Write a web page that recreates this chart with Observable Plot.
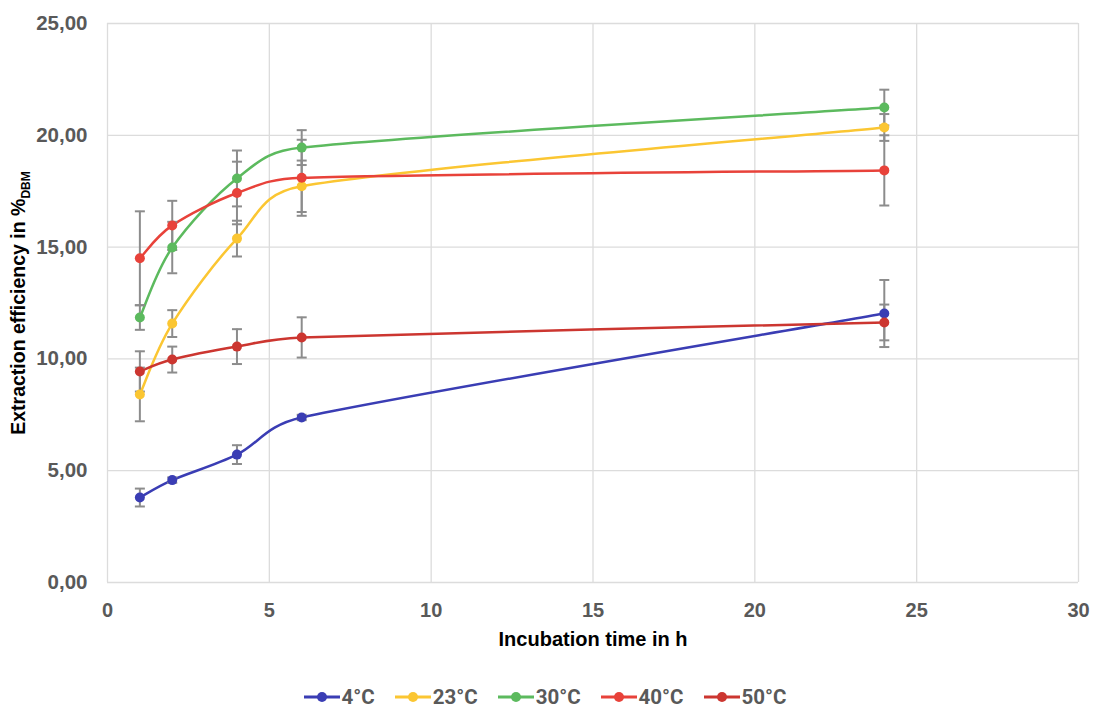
<!DOCTYPE html>
<html>
<head>
<meta charset="utf-8">
<script src="https://cdn.jsdelivr.net/npm/d3@7"></script>
<script src="https://cdn.jsdelivr.net/npm/@observablehq/plot@0.6"></script>
<style>
  html, body { margin: 0; padding: 0; background: #fff; }
  body { width: 1099px; font-family: "Liberation Sans", Arial, sans-serif; }
  #chart svg { display: block; }
  #legend { display: flex; justify-content: center; gap: 20px; margin-top: 27px; padding-right: 9px; line-height: 20px; height: 20px;
            font-family: "Roboto", "Liberation Sans", sans-serif; font-weight: 700; font-size: 20.5px; color: #595959; }
  .item { display: flex; align-items: center; gap: 2px; }
</style>
</head>
<body>
<div id="chart"></div>
<div id="legend"></div>
<script>
// ---- data ----
const times = [1, 2, 4, 6, 24];
const seriesNames = ["4°C", "23°C", "30°C", "40°C", "50°C"];
const seriesColors = ["#3a3db4", "#fbc632", "#5cba5e", "#e8423a", "#cc3630"];

const mean4  = [3.80, 4.58, 5.72, 7.38, 12.03];
const err4   = [0.40, 0.12, 0.42, 0.12, 1.50];
const mean23 = [8.41, 11.58, 15.38, 17.72, 20.35];
const err23  = [1.20, 0.60, 0.80, 1.15, 0.60];
const mean30 = [11.85, 14.98, 18.07, 19.45, 21.24];
const err30  = [0.55, 1.15, 1.25, 0.78, 0.80];
const mean40 = [14.50, 15.97, 17.42, 18.10, 18.43];
const err40  = [2.10, 1.10, 1.40, 1.70, 1.57];
const mean50 = [9.44, 9.97, 10.55, 10.96, 11.63];
const err50  = [0.90, 0.58, 0.78, 0.90, 0.80];

const xTicks = [0, 5, 10, 15, 20, 25, 30];
const yTicks = [0, 5, 10, 15, 20, 25];
const xLabel = "Incubation time in h";
const yLabelMain = "Extraction efficiency in %";
const yLabelSub = "DBM";

// ---- build table ----
const means = [mean4, mean23, mean30, mean40, mean50];
const errs = [err4, err23, err30, err40, err50];
const rows = seriesNames.flatMap((s, i) =>
  times.map((t, j) => ({ series: s, t, v: means[i][j], e: errs[i][j] })));

// spreadsheet-style smoothed line (Bezier with limited control points)
function SmoothCurve(context) { this._context = context; }
SmoothCurve.prototype = {
  areaStart() {}, areaEnd() {},
  lineStart() { this._pts = []; },
  point(x, y) { this._pts.push([+x, +y]); },
  lineEnd() {
    const p = this._pts, c = this._context, n = p.length;
    if (!n) return;
    c.moveTo(p[0][0], p[0][1]);
    const dist = (a, b) => Math.hypot(a[0] - b[0], a[1] - b[1]);
    for (let i = 0; i < n - 1; i++) {
      const p0 = p[Math.max(i - 1, 0)], p1 = p[i], p2 = p[i + 1], p3 = p[Math.min(i + 2, n - 1)];
      const d02 = dist(p0, p2), d12 = dist(p1, p2), d13 = dist(p1, p3);
      let f = 1 / 6, g = 1 / 6;
      if (d02 / 6 >= d12 / 2 && d02 > 0) f = d12 / (2 * d02);
      if (d13 / 6 >= d12 / 2 && d13 > 0) g = d12 / (2 * d13);
      c.bezierCurveTo(
        p1[0] + (p2[0] - p0[0]) * f, p1[1] + (p2[1] - p0[1]) * f,
        p2[0] - (p3[0] - p1[0]) * g, p2[1] - (p3[1] - p1[1]) * g,
        p2[0], p2[1]);
    }
  }
};
const smoothCurve = ctx => new SmoothCurve(ctx);

const capSymbol = {
  draw(context, size) {
    const w = Math.sqrt(size / Math.PI);
    context.moveTo(-w, 0);
    context.lineTo(w, 0);
  }
};
const fmt = d => d3.format(".2f")(d).replace(".", ",");
const errColor = "#8c8c8c";
const tickFont = "'Liberation Sans', Arial, sans-serif";

const plot = Plot.plot({
  width: 1099,
  height: 660,
  marginLeft: 107,
  marginRight: 21,
  marginTop: 23,
  marginBottom: 78,
  style: { fontFamily: tickFont, background: "#fff" },
  x: { domain: [0, 30] },
  y: { domain: [0, 25] },
  color: { domain: seriesNames, range: seriesColors },
  marks: [
    Plot.gridX(xTicks, { stroke: "#dcdcdc", strokeOpacity: 1, strokeWidth: 1.3 }),
    Plot.gridY(yTicks, { stroke: "#dcdcdc", strokeOpacity: 1, strokeWidth: 1.3 }),
    Plot.axisX(xTicks, { tickSize: 0, tickPadding: 20, fontSize: 20, fontWeight: "bold", fill: "#595959",
      fontFamily: tickFont, label: null }),
    Plot.axisY(yTicks, { tickSize: 0, tickPadding: 20, fontSize: 20.5, fontWeight: "bold", fill: "#595959",
      fontFamily: tickFont, tickFormat: fmt, label: null }),
    Plot.line(rows, { x: "t", y: "v", z: "series", stroke: "series", curve: smoothCurve, strokeWidth: 2.5 }),
    Plot.ruleX(rows, { x: "t", y1: d => d.v - d.e, y2: d => d.v + d.e, stroke: errColor, strokeWidth: 2 }),
    Plot.dot(rows, { x: "t", y: d => d.v - d.e, symbol: capSymbol, r: 5, stroke: errColor, strokeWidth: 2, fill: "none" }),
    Plot.dot(rows, { x: "t", y: d => d.v + d.e, symbol: capSymbol, r: 5, stroke: errColor, strokeWidth: 2, fill: "none" }),
    Plot.dot(rows, { x: "t", y: "v", fill: "series", r: 5 }),
    Plot.text([xLabel], { frameAnchor: "bottom", dy: 63, text: d => d, fontSize: 20, fontWeight: "bold", fill: "#000" }),
    Plot.text([yLabelMain], { frameAnchor: "left", textAnchor: "middle", dx: -89, rotate: -90, text: d => d,
      fontSize: 19.5, fontWeight: "bold", fill: "#000" })
  ]
});
document.getElementById("chart").appendChild(plot);

// add subscript to y label
d3.select(plot).selectAll("text").filter(function () { return this.textContent === yLabelMain; })
  .each(function () {
    const t = d3.select(this);
    t.text(null);
    t.append("tspan").text(yLabelMain);
    t.append("tspan").attr("font-size", 12).attr("dy", 5).text(yLabelSub);
  });

// legend
const legend = d3.select("#legend");
seriesNames.forEach((s, i) => {
  const it = legend.append("div").attr("class", "item");
  const sv = it.append("svg").attr("width", 36).attr("height", 12);
  sv.append("line").attr("x1", 0).attr("x2", 36).attr("y1", 6).attr("y2", 6)
    .attr("stroke", seriesColors[i]).attr("stroke-width", 3);
  sv.append("circle").attr("cx", 18).attr("cy", 6).attr("r", 5).attr("fill", seriesColors[i]);
  it.append("span").text(s);
});
</script>
</body>
</html>
